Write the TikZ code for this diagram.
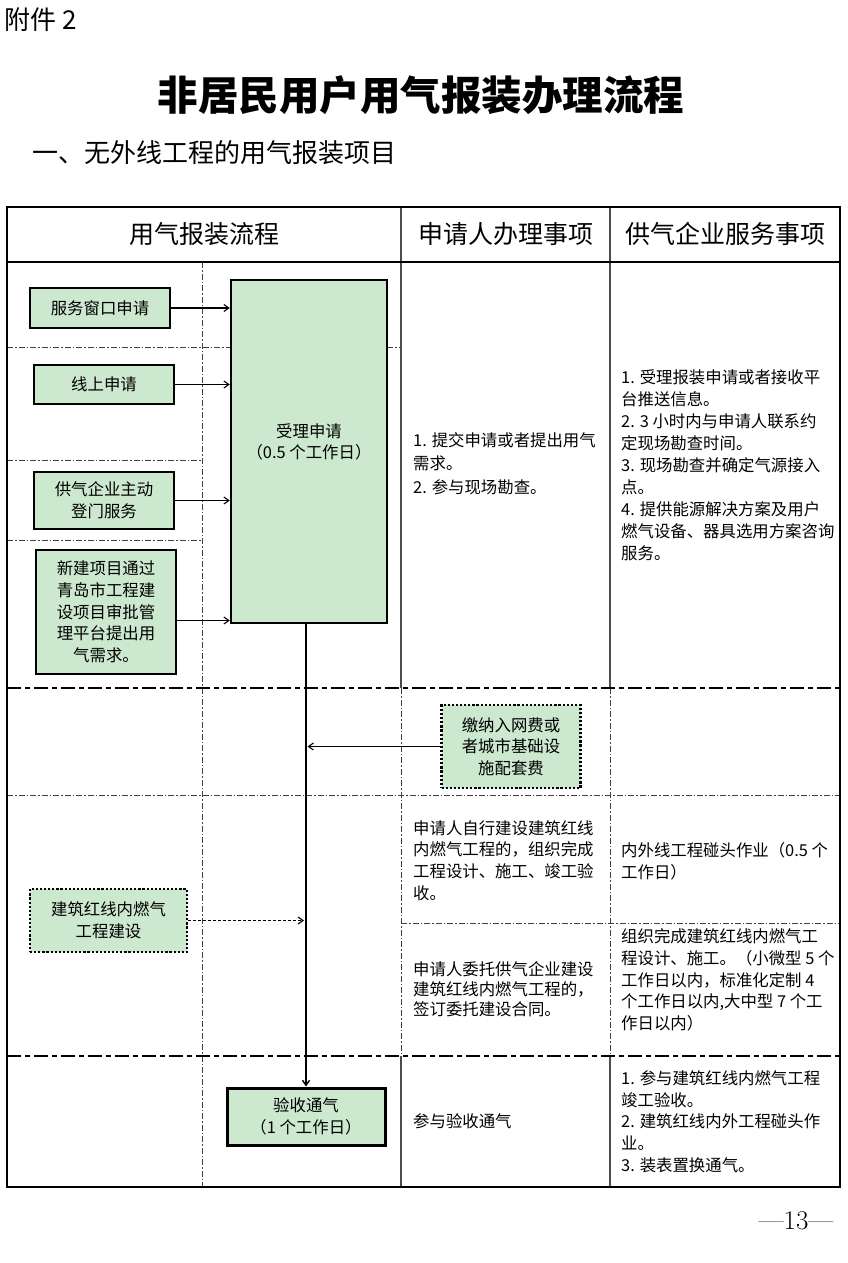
\documentclass[tikz,border=0pt]{standalone}
\usepackage{fontspec}
\newfontfamily\cjk{Noto Sans CJK SC}
\usetikzlibrary{arrows.meta}
\definecolor{boxgreen}{RGB}{204,232,207}
\begin{document}
\begin{tikzpicture}[x=1pt,y=-1pt,
  txt/.style={font={\cjk\fontsize{16.4}{21.7}\selectfont}, align=left, inner sep=0pt, anchor=west},
  gbox/.style={draw=black, fill=boxgreen, line width=2pt, align=center, font={\cjk\fontsize{16.4}{21.7}\selectfont}, inner sep=0pt},
  dbox/.style={gbox, line width=2.4pt, dash pattern=on 2.2pt off 1.9pt},
  hdr/.style={font={\cjk\fontsize{25}{30}\selectfont}, inner sep=0pt},
  thindd/.style={line width=0.9pt, black!75, dash pattern=on 6pt off 2pt on 1.5pt off 2pt},
  thickdd/.style={line width=2.8pt, dash pattern=on 14pt off 4pt on 5pt off 4pt},
  colline/.style={line width=1.3pt, black!70},
  arr/.style={line width=1.1pt, -{Straight Barb[length=5pt,width=7pt]}},
  darr/.style={arr, dash pattern=on 3pt off 2pt},
]
\useasboundingbox (0,0) rectangle (848,1263);

% top texts
\node[anchor=west, inner sep=0pt, font={\cjk\fontsize{26}{30}\selectfont}] (att) at (4,20) {附件 2};
\node[inner sep=0pt, font={\cjk\bfseries\fontsize{40.5}{46}\selectfont}] (title) at (421,95) {非居民用户用气报装办理流程};
\node[anchor=west, inner sep=0pt, font={\cjk\fontsize{26}{30}\selectfont}] (sub) at (32,153) {一、无外线工程的用气报装项目};

% table grid
\draw[thindd] (202,262) -- (202,1187);
\draw[thindd] (7,347) -- (231,347);
\draw[thindd] (387,347) -- (401,347);
\draw[thindd] (7,460) -- (202,460);
\draw[thindd] (7,540) -- (202,540);
\draw[thindd] (7,795) -- (840,795);
\draw[thindd] (401,923) -- (840,923);
\draw[thindd] (401,688) -- (401,1056);
\draw[thindd] (610,688) -- (610,1056);
\draw[colline] (401,207) -- (401,688);
\draw[colline] (610,207) -- (610,688);
\draw[colline] (401,1056) -- (401,1187);
\draw[colline] (610,1056) -- (610,1187);
\draw[thickdd] (7,688) -- (840,688);
\draw[thickdd] (7,1056) -- (840,1056);
\draw[line width=2.5pt] (7,262) -- (840,262);
\draw[line width=2.5pt] (7,207) rectangle (840,1187);

% headers
\node[hdr] (h1) at (204,234) {用气报装流程};
\node[hdr] (h2) at (505.5,234) {申请人办理事项};
\node[hdr] (h3) at (725,234) {供气企业服务事项};

% boxes
\node[gbox, line width=2.4pt, minimum width=156pt, minimum height=343pt] (acc) at (309,451.5) {};
\node[txt, anchor=center, align=center] (acct) at (309,442) {受理申请\\（0.5 个工作日）};

\node[gbox, minimum width=140pt, minimum height=40pt] (s1) at (100,308) {服务窗口申请};
\node[gbox, minimum width=140pt, minimum height=39pt] (s2) at (104,384.5) {线上申请};
\node[gbox, minimum width=140pt, minimum height=57pt] (s3) at (104,500.5) {供气企业主动\\登门服务};
\node[gbox, minimum width=140pt, minimum height=124pt] (s4) at (106,612) {新建项目通过\\青岛市工程建\\设项目审批管\\理平台提出用\\气需求。};

\node[gbox, line width=3pt, minimum width=158pt, minimum height=57pt] (ys) at (306,1116.5) {验收通气\\（1 个工作日）};

\node[dbox, minimum width=139pt, minimum height=83pt] (jn) at (511,746.5) {缴纳入网费或\\者城市基础设\\施配套费};
\node[dbox, minimum width=157pt, minimum height=63pt] (jz) at (108.5,920.5) {建筑红线内燃气\\工程建设};

% connectors
\draw[arr] (s1.east) -- (s1.east -| acc.west);
\draw[arr] (s2.east) -- (s2.east -| acc.west);
\draw[arr] (s3.east) -- (s3.east -| acc.west);
\draw[arr] ([yshift=-8.5pt]s4.east) -- ([yshift=-8.5pt]s4.east -| acc.west);
\draw[arr, line width=1.4pt] (ys.north |- acc.south) -- (ys.north);
\draw[arr] (jn.west) -- ([xshift=1.5pt]jn.west -| ys.north);
\draw[darr] (jz.east) -- ([xshift=-2pt]jz.east -| ys.north);

% column 2 texts
\begin{scope}[every node/.append style={txt}]
\node[font={\cjk\fontsize{16.4}{23.4}\selectfont}] (c2a) at (413,463.5) {1. 提交申请或者提出用气\\需求。\\2. 参与现场勘查。};
\node (c2b) at (413,860.5) {申请人自行建设建筑红线\\内燃气工程的，组织完成\\工程设计、施工、竣工验\\收。};
\node[font={\cjk\fontsize{16.4}{20}\selectfont}] (c2c) at (413,989.5) {申请人委托供气企业建设\\建筑红线内燃气工程的，\\签订委托建设合同。};
\node (c2d) at (413,1121) {参与验收通气};

% column 3 texts
\node[font={\cjk\fontsize{16.4}{22}\selectfont}] (c3a) at (621,465) {1. 受理报装申请或者接收平\\台推送信息。\\2. 3 小时内与申请人联系约\\定现场勘查时间。\\3. 现场勘查并确定气源接入\\点。\\4. 提供能源解决方案及用户\\燃气设备、器具选用方案咨询\\服务。};
\node (c3b) at (621,861) {内外线工程碰头作业（0.5 个\\工作日）};
\node[font={\cjk\fontsize{16.4}{21.6}\selectfont}] (c3c) at (621,980) {组织完成建筑红线内燃气工\\程设计、施工。（小微型 5 个\\工作日以内，标准化定制 4\\个工作日以内,大中型 7 个工\\作日以内）};
\node (c3d) at (621,1121.5) {1. 参与建筑红线内燃气工程\\竣工验收。\\2. 建筑红线内外工程碰头作\\业。\\3. 装表置换通气。};
\end{scope}

% page number
\node[inner sep=0pt, font={\fontsize{27}{30}\selectfont}] (pg) at (796,1221) {—13—};
\end{tikzpicture}
\end{document}
